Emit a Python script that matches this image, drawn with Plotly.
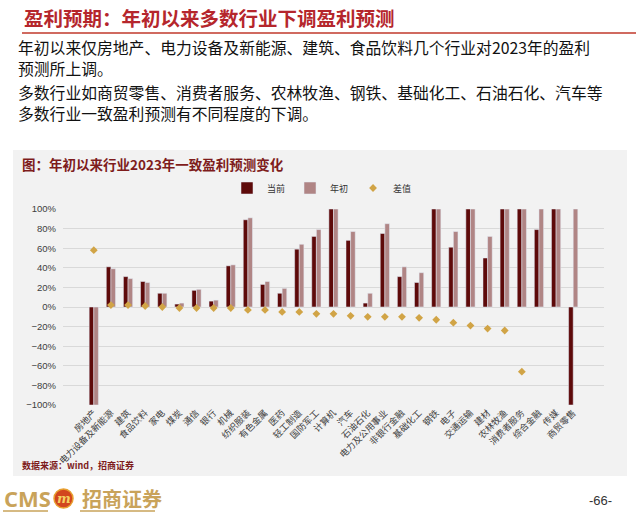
import plotly.graph_objects as go

categories = ["房地产", "电力设备及新能源", "建筑", "食品饮料", "家电", "煤炭", "通信", "银行",
              "机械", "纺织服装", "有色金属", "医药", "轻工制造", "国防军工", "计算机", "汽车",
              "石油石化", "电力及公用事业", "非银行金融", "基础化工", "钢铁", "电子", "交通运输",
              "建材", "农林牧渔", "消费者服务", "综合金融", "传媒", "商贸零售"]
current = [-1.00, 0.41, 0.31, 0.26, 0.14, 0.03, 0.17, 0.06, 0.42, 0.89, 0.23, 0.14, 0.59, 0.72,
           1.00, 0.68, 0.04, 0.75, 0.31, 0.25, 1.00, 0.61, 1.00, 0.50, 1.00, 1.00, 0.79, 1.00, -1.00]
start = [-1.00, 0.39, 0.29, 0.25, 0.14, 0.04, 0.18, 0.07, 0.43, 0.91, 0.26, 0.19, 0.64, 0.79,
         1.00, 0.77, 0.14, 0.85, 0.41, 0.35, 1.00, 0.77, 1.00, 0.72, 1.00, 1.00, 1.00, 1.00, 1.00]
diff = [0.58, 0.02, 0.02, 0.01, 0.00, -0.01, -0.01, -0.01, -0.01, -0.03, -0.03, -0.05, -0.05, -0.07,
        -0.07, -0.09, -0.10, -0.10, -0.10, -0.11, -0.13, -0.16, -0.19, -0.22, -0.24, -0.66,
        None, None, None]
ytick_vals = [-1.0, -0.8, -0.6, -0.4, -0.2, 0.0, 0.2, 0.4, 0.6, 0.8, 1.0]

W, H = 640, 513
CJK = "Noto Sans CJK SC"

fig = go.Figure()
fig.add_trace(go.Bar(name="当前", x=categories, y=current, marker_color="#5E0A0A"))
fig.add_trace(go.Bar(name="年初", x=categories, y=start, marker_color="#B08585"))
fig.add_trace(go.Scatter(name="差值", x=categories, y=diff, mode="markers",
                         marker=dict(symbol="diamond", size=6, color="#D1A446")))


def px(x):
    return x / W


def py(y):
    return 1 - y / H


shapes = [
    dict(type="rect", xref="paper", yref="paper", x0=px(13), x1=px(627), y0=py(476), y1=py(150),
         fillcolor="#F2F2F2", line=dict(width=0), layer="below"),
    dict(type="line", xref="paper", yref="paper", x0=px(22), x1=px(636), y0=py(33), y1=py(33),
         line=dict(color="#C0392B", width=1.5)),
    dict(type="line", xref="paper", yref="paper", x0=px(3), x1=px(48), y0=py(511), y1=py(511),
         line=dict(color="#C9A35A", width=1.5)),
    dict(type="line", xref="paper", yref="paper", x0=px(80), x1=px(155), y0=py(511), y1=py(511),
         line=dict(color="#C9A35A", width=1.5)),
    dict(type="circle", xref="paper", yref="paper", x0=px(54), x1=px(73), y0=py(508), y1=py(489),
         fillcolor="#D2461E", line=dict(color="#E8A030", width=1.5)),
]


def ann(text, x, y, size, color, family=CJK, xanchor="left"):
    return dict(text=text, x=px(x), y=py(y), xref="paper", yref="paper", xanchor=xanchor,
                yanchor="middle", align="left", showarrow=False,
                font=dict(family=family, size=size, color=color))


annotations = [
    ann("<b>盈利预期：年初以来多数行业下调盈利预测</b>", 22, 17, 19.5, "#B5262C"),
    ann("年初以来仅房地产、电力设备及新能源、建筑、食品饮料几个行业对2023年的盈利<br>预测所上调。",
        16, 58, 15.8, "#111111"),
    ann("多数行业如商贸零售、消费者服务、农林牧渔、钢铁、基础化工、石油石化、汽车等<br>多数行业一致盈利预测有不同程度的下调。",
        16, 103, 15.8, "#111111"),
    ann("<b>图：年初以来行业2023年一致盈利预测变化</b>", 20, 164, 13.5, "#7E1C1C"),
    ann("<b>数据来源：wind，招商证券</b>", 20, 465, 9, "#7E1C1C"),
    ann("<b>CMS</b>", 2, 498, 22, "#C9A35A", family="Open Sans"),
    ann("<b><i>m</i></b>", 63.5, 498, 13, "#F5D060", family="DejaVu Serif", xanchor="center"),
    ann("<b>招商证券</b>", 80, 498, 20, "#C9A35A"),
    ann("-66-", 614, 500, 13, "#333333", family="Liberation Sans", xanchor="right"),
]

fig.update_layout(
    width=W, height=H,
    margin=dict(l=0, r=0, t=0, b=0),
    paper_bgcolor="white",
    plot_bgcolor="rgba(0,0,0,0)",
    barmode="group", bargap=0.46, bargroupgap=0.0,
    shapes=shapes, annotations=annotations,
    showlegend=True,
    legend=dict(orientation="h", x=px(322), xanchor="center", y=py(188), yanchor="middle",
                font=dict(family=CJK, size=9, color="#333333"), bgcolor="rgba(0,0,0,0)",
                itemwidth=30, traceorder="normal"),
    xaxis=dict(domain=[px(63), px(604)], tickangle=-45, tickfont=dict(family=CJK, size=9, color="#404040"),
               showgrid=False, showline=False, ticks="", automargin=False),
    yaxis=dict(domain=[py(405), py(209)], range=[-1, 1], tickvals=ytick_vals, tickformat=".0%",
               tickfont=dict(family="Liberation Sans", size=9.5, color="#404040"),
               gridcolor="#D9D9D9", gridwidth=1, zeroline=True, zerolinecolor="#D9D9D9",
               zerolinewidth=1, showline=False, ticks="", ticklabelstandoff=6, automargin=False),
)

fig.write_html("out.html", config={"displayModeBar": False},
               post_script="document.body.style.margin='0';document.body.style.overflow='hidden';")
